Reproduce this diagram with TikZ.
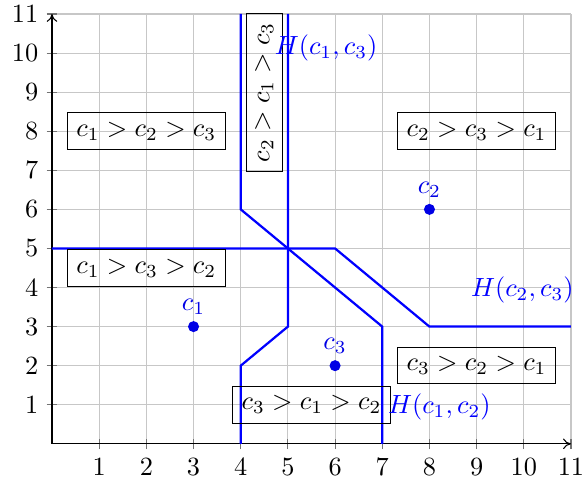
\documentclass[tikz,border=0pt]{standalone}
\usetikzlibrary{arrows.meta}
\begin{document}
\begin{tikzpicture}[x=17.93pt,y=14.85pt,
  gridline/.style={black!22,line width=0.4pt},
  axisline/.style={black,line width=0.4pt,-{To[length=3pt,width=4pt]}},
  tickmark/.style={black!55,line width=0.4pt},
  region/.style={draw=black,line width=0.4pt,inner xsep=3.5pt,inner ysep=3.5pt},
  bisector/.style={blue,line width=0.85pt},
  site/.style={circle,fill=blue!90!black,inner sep=0pt,minimum size=4.2pt},
  sitelabel/.style={blue!90!black,inner sep=1pt},
  hlabel/.style={blue,inner sep=1pt}]
\useasboundingbox (-1.102,-1.074) rectangle (11.255,11.358);
% grid
\foreach \i in {1,...,11} {
  \draw[gridline] (\i,0) -- (\i,11);
  \draw[gridline] (0,\i) -- (11,\i);
}
% ticks and labels
\foreach \i in {1,...,11} {
  \draw[tickmark] (\i,0) ++(0,-2pt) -- ++(0,4pt);
  \draw[tickmark] (0,\i) ++(-2pt,0) -- ++(4pt,0);
  \node[anchor=north,inner sep=0pt] at ([yshift=-5.5pt]\i,0) {$\i$};
  \node[anchor=east,inner sep=0pt] at ([xshift=-5pt]0,\i) {$\i$};
}
% axes
\coordinate (O) at (0,0);
\coordinate (xend) at (11,0);
\coordinate (yend) at (0,11);
\draw[axisline] (O) -- (xend);
\draw[axisline] (O) -- (yend);
% bisectors
\coordinate (a1) at (4,0);
\coordinate (a2) at (4,2);
\coordinate (a3) at (5,3);
\coordinate (a4) at (5,11);
\draw[bisector] (a1) -- (a2) -- (a3) -- (a4);
\coordinate (b1) at (4,11);
\coordinate (b2) at (4,6);
\coordinate (b3) at (7,3);
\coordinate (b4) at (7,0);
\draw[bisector] (b1) -- (b2) -- (b3) -- (b4);
\coordinate (d1) at (0,5);
\coordinate (d2) at (6,5);
\coordinate (d3) at (8,3);
\coordinate (d4) at (11,3);
\draw[bisector] (d1) -- (d2) -- (d3) -- (d4);
% region boxes
\node[region] (r123) at (2,8) {$c_1 > c_2 > c_3$};
\node[region] (r132) at (2,4.5) {$c_1 > c_3 > c_2$};
\node[region] (r231) at (9,8) {$c_2 > c_3 > c_1$};
\node[region] (r321) at (9,2) {$c_3 > c_2 > c_1$};
\node[region] (r312) at (5.5,1) {$c_3 > c_1 > c_2$};
\node[region,rotate=90] (r213) at (4.5,9) {$c_2 > c_1 > c_3$};
% bisector labels
\node[hlabel] (h13) at (5.81,10.12) {$H(c_1,c_3)$};
\node[hlabel] (h23) at (9.97,3.94) {$H(c_2,c_3)$};
\node[hlabel] (h12) at (8.21,0.95) {$H(c_1,c_2)$};
% sites
\node[site] (c1) at (3,3) {};
\node[site] (c2) at (8,6) {};
\node[site] (c3) at (6,2) {};
\node[sitelabel,anchor=south] (l1) at ([yshift=1pt]c1.north) {$c_1$};
\node[sitelabel,anchor=south] (l2) at ([yshift=1pt]c2.north) {$c_2$};
\node[sitelabel,anchor=south] (l3) at ([yshift=1pt]c3.north) {$c_3$};
\end{tikzpicture}
\end{document}
